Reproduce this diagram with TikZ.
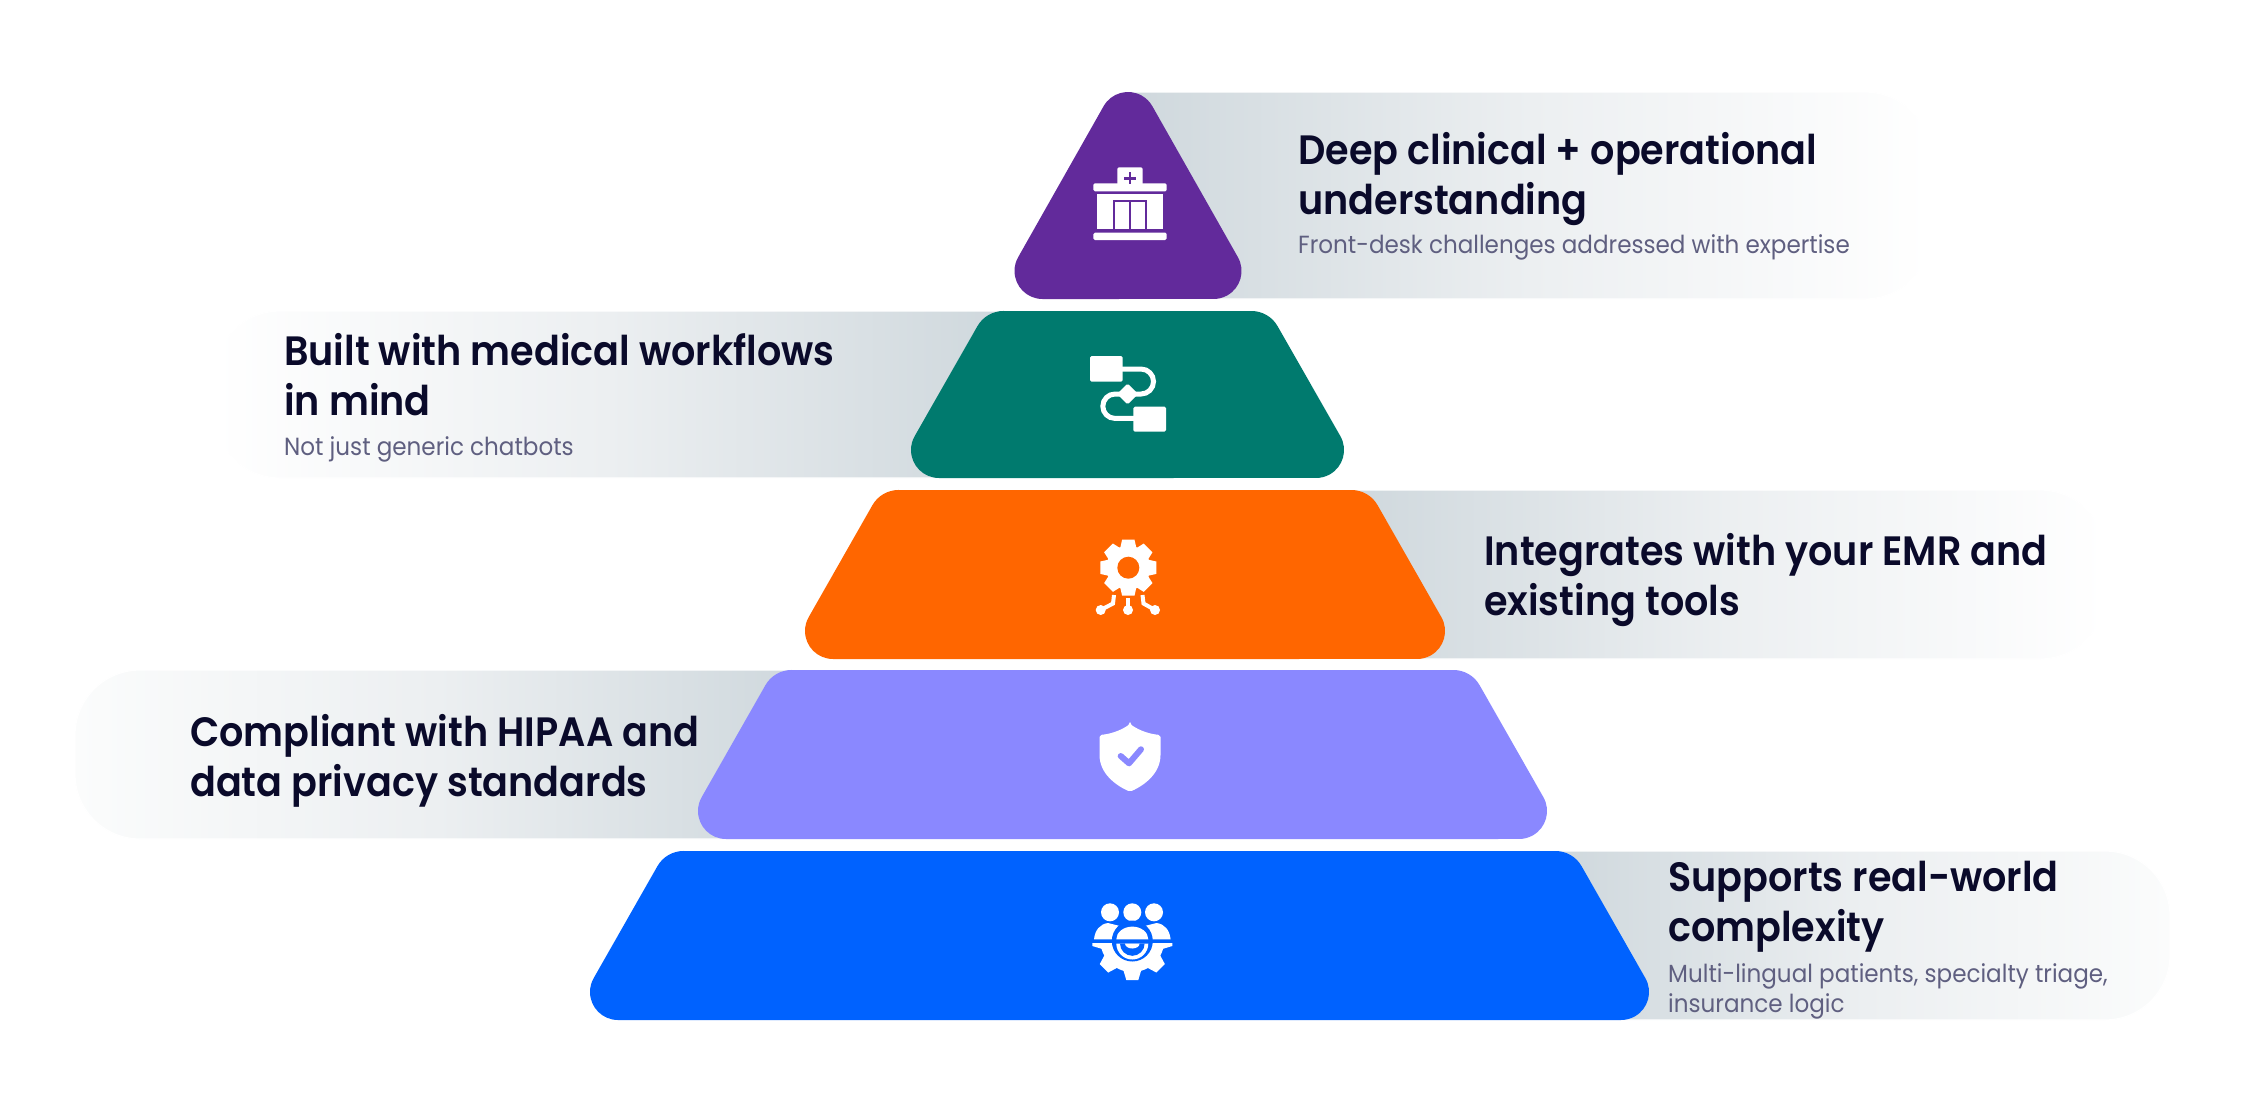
\documentclass[tikz,border=0pt]{standalone}
\usepackage{fontspec}
\setmainfont{Poppins}[FakeStretch=0.93]
\newfontfamily\headfont{Poppins SemiBold}[FakeStretch=0.93]
\usetikzlibrary{calc}

\definecolor{inkdark}{HTML}{0A0A2A}
\definecolor{inkgrey}{HTML}{5F5F80}
\definecolor{bandcore}{HTML}{CFD8DD}
\definecolor{bandmid}{HTML}{ECEFF1}
\definecolor{bandfade}{HTML}{FBFCFC}
\definecolor{tierpurple}{HTML}{622A9B}
\definecolor{tierteal}{HTML}{007A6E}
\definecolor{tierorange}{HTML}{FF6600}
\definecolor{tierlilac}{HTML}{8A88FF}
\definecolor{tierblue}{HTML}{0062FF}

\begin{document}
\begin{tikzpicture}[
  x=1pt, y=-1pt,
  heading/.style={
    anchor=base west, inner sep=0pt, align=left, text=inkdark,
    font=\headfont\fontsize{41}{50}\selectfont},
  subtext/.style={
    anchor=base west, inner sep=0pt, align=left, text=inkgrey,
    font=\fontsize{24.8}{30}\selectfont},
  bandright/.style={
    left color=bandcore, right color=#1, middle color=bandmid,
    draw=white, line width=1.2pt},
  bandright/.default=bandfade,
  bandleft/.style={
    left color=#1, right color=bandcore, middle color=bandmid,
    draw=white, line width=1.2pt},
  bandleft/.default=bandfade,
  iconbit/.style={fill=white, rounded corners=1.5pt},
  iconline/.style={draw=white, line width=5pt},
]
  \useasboundingbox (0,0) rectangle (2246,1114);

  % ── Gradient bands behind the tiers ─────────────────────────────────────
  \path[bandright=white]
      (1130,92) [rounded corners=65pt] -- (1930,92) -- (1930,299) [sharp corners] -- (1130,299) -- cycle;
  \path[bandleft=white]
      (1000,311) [rounded corners=65pt] -- (215,311) -- (215,478) [sharp corners] -- (1000,478) -- cycle;
  \path[bandright=white]
      (1350,490) [rounded corners=65pt] -- (2105,490) -- (2105,659) [sharp corners] -- (1350,659) -- cycle;
  \path[bandleft]
      (800,670) [rounded corners=65pt] -- (75,670) -- (75,839) [sharp corners] -- (800,839) -- cycle;
  \path[bandright]
      (1560,851) [rounded corners=65pt] -- (2170,851) -- (2170,1020) [sharp corners] -- (1560,1020) -- cycle;

  % ── Tiers ───────────────────────────────────────────────────────────────
  \fill[tierpurple]
      (1103.6,106.2) arc[start angle=209.5, end angle=330.5, radius=28]
      -- (1237.9,257.2) arc[start angle=-29.5, end angle=90, radius=28]
      -- (1042.5,299) arc[start angle=90, end angle=209.5, radius=28] -- cycle;
  \foreach \tl/\tr/\bl/\br/\yt/\yb/\tone in {
      986/1269/891/1364/311/478/tierteal,
      881/1369/785/1465/490/659/tierorange,
      774/1471/678/1567/670/839/tierlilac,
      666/1573/570/1669/851/1020/tierblue}
    \fill[\tone]
      (\tl+17.5,\yt) -- (\tr-17.5,\yt) arc[start angle=-90, end angle=-29.5, radius=30]
      -- (\br-23.6,\yb-41.8) arc[start angle=-29.5, end angle=90, radius=28]
      -- (\bl+48,\yb) arc[start angle=90, end angle=209.5, radius=28]
      -- (\tl-8.6,\yt+15.2) arc[start angle=209.5, end angle=270, radius=30] -- cycle;

  % ── Hospital icon ───────────────────────────────────────────────────────
  \fill[iconbit] (1117.3,167.3) rectangle (1142.7,187);
  \fill[iconbit] (1093.3,183.3) rectangle (1166.7,191.3);
  \fill[white] (1096.7,194.3) rectangle (1163.3,229.3);
  \fill[iconbit] (1093.3,232.7) rectangle (1166.7,240);
  \draw[tierpurple, line width=2.5pt] (1124,178.3) -- (1136,178.3);
  \draw[tierpurple, line width=2.5pt] (1130,172.3) -- (1130,184.3);
  \draw[tierpurple, line width=2.2pt] (1114,230) -- (1114,201) -- (1146,201) -- (1146,230);
  \draw[tierpurple, line width=2.2pt] (1130,201) -- (1130,230);

  % ── Workflow icon ───────────────────────────────────────────────────────
  \fill[iconbit] (1090,356) rectangle (1122.7,381.7);
  \fill[iconbit] (1133.3,406.7) rectangle (1166,431.7);
  \draw[iconline] (1120,369) -- (1141,369) arc[start angle=-90, end angle=90, radius=12.5] -- (1128,394);
  \draw[iconline] (1128,394) -- (1115,394) arc[start angle=270, end angle=90, radius=12.2] -- (1135,418.4);
  \fill[iconbit] (1127.7,383.5) -- (1138.2,394) -- (1127.7,404.5) -- (1117.2,394) -- cycle;

  % ── Gear and network icon ───────────────────────────────────────────────
  \foreach \a in {0,45,...,315}
    \fill[white, shift={(1128.3,567.7)}, rotate=\a]
        (-8,-20) -- (-6.2,-28) -- (6.2,-28) -- (8,-20) -- cycle;
  \fill[white] (1128.3,567.7) circle[radius=22];
  \fill[tierorange] (1128.3,567.7) circle[radius=11];
  \draw[white, line width=4pt] (1128,598) -- (1128,610);
  \draw[white, line width=4pt] (1114,595) -- (1113,603.5) -- (1100.7,610);
  \draw[white, line width=4pt] (1142.5,595) -- (1143.5,603.5) -- (1155,610);
  \foreach \cx in {1100.7,1128,1155}
    \fill[white] (\cx,610) circle[radius=5];

  % ── Shield icon ─────────────────────────────────────────────────────────
  \fill[white, rounded corners=2pt]
      (1130,724) .. controls (1140,731) and (1150,734) .. (1160.5,735)
      -- (1160.5,753) .. controls (1160.5,773) and (1145,785) .. (1130,791.7)
      .. controls (1115,785) and (1099.5,773) .. (1099.5,753)
      -- (1099.5,735) .. controls (1110,734) and (1120,731) .. (1130,724) -- cycle;
  \draw[tierlilac, line width=6pt, line cap=round, line join=round]
      (1120.7,756) -- (1129,763.3) -- (1141,749.3);

  % ── Team and gear icon ──────────────────────────────────────────────────
  \foreach \cx in {1110,1132.3,1154}
    \fill[white] (\cx,912.3) circle[radius=9];
  \fill[white] (1094,939.3) .. controls (1095,930) and (1100,924) .. (1108,923)
      -- (1120,926) -- (1120,939.3) -- cycle;
  \fill[white] (1170.6,939.3) .. controls (1169.6,930) and (1164.6,924) .. (1156.6,923)
      -- (1144.6,926) -- (1144.6,939.3) -- cycle;
  \begin{scope}
    \clip (1085,943.5) rectangle (1180,990);
    \foreach \a in {0,45,...,315}
      \fill[white, shift={(1132.3,940)}, rotate=\a]
          (-9,-30) -- (-6,-40) -- (6,-40) -- (9,-30) -- cycle;
    \fill[white] (1132.3,940) circle[radius=32];
  \end{scope}
  \fill[tierblue] (1132.3,941) circle[radius=20.5];
  \fill[white] (1116.3,939.3) arc[start angle=180, end angle=360, x radius=16, y radius=12.7] -- cycle;
  \fill[white] (1116.3,943.5) arc[start angle=180, end angle=0, x radius=16, y radius=16] -- cycle;
  \fill[tierblue] (1120,943.5) arc[start angle=180, end angle=0, x radius=12.3, y radius=12.3] -- cycle;
  \fill[white] (1125,943.5) arc[start angle=180, end angle=0, x radius=7.3, y radius=5] -- cycle;

  % ── Labels ──────────────────────────────────────────────────────────────
  \node[heading] (head1) at (1298,214) {Deep clinical + operational\\understanding};
  \node[subtext] (sub1)  at (1298,253) {Front-desk challenges addressed with expertise};
  \node[heading] (head2) at (284,415)  {Built with medical workflows\\in mind};
  \node[subtext] (sub2)  at (284,455)  {Not just generic chatbots};
  \node[heading] (head3) at (1484,615) {Integrates with your EMR and\\existing tools};
  \node[heading] (head4) at (190,796)  {Compliant with HIPAA and\\data privacy standards};
  \node[heading] (head5) at (1668,941) {Supports real-world\\complexity};
  \node[subtext] (sub5)  at (1668,1012) {Multi-lingual patients, specialty triage,\\insurance logic};

\end{tikzpicture}
\end{document}
